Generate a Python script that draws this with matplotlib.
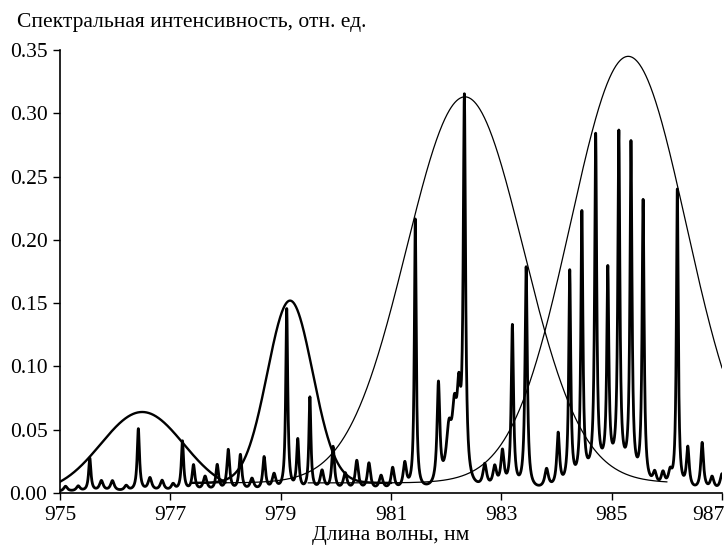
import numpy as np
import matplotlib
matplotlib.use("Agg")
import matplotlib.pyplot as plt
import matplotlib.transforms as mtransforms

plt.rcParams['font.family'] = ['Liberation Serif', 'DejaVu Serif']

# --- data ---
x_min, x_max = 975.0, 987.0
x_ticks = [975, 977, 979, 981, 983, 985, 987]
y_ticks = [0.00, 0.05, 0.10, 0.15, 0.20, 0.25, 0.30, 0.35]

# spectral lines: centre (nm), height, half-width (nm)
line_centres = [975.10, 975.33, 975.54, 975.75, 975.95, 976.20, 976.42, 976.63,
                976.85, 977.05, 977.22, 977.42, 977.63, 977.85, 978.05, 978.27,
                978.48, 978.70, 978.88, 979.11, 979.31, 979.53, 979.75, 979.95,
                980.17, 980.38, 980.60, 980.82, 981.03, 981.25, 981.44, 981.86,
                982.05, 982.15, 982.23, 982.33, 982.70, 982.88, 983.02, 983.20,
                983.45, 983.82, 984.03, 984.24, 984.46, 984.71, 984.93, 985.13,
                985.35, 985.57, 985.78, 985.93, 986.06, 986.19, 986.38, 986.64,
                986.82, 987.00]
line_heights = [0.004, 0.004, 0.026, 0.008, 0.008, 0.004, 0.049, 0.010,
                0.008, 0.005, 0.039, 0.020, 0.011, 0.020, 0.032, 0.028,
                0.009, 0.026, 0.012, 0.143, 0.039, 0.073, 0.015, 0.034,
                0.013, 0.023, 0.021, 0.011, 0.017, 0.020, 0.213, 0.080,
                0.040, 0.048, 0.058, 0.300, 0.018, 0.016, 0.028, 0.128,
                0.175, 0.015, 0.042, 0.168, 0.210, 0.265, 0.155, 0.265,
                0.262, 0.222, 0.010, 0.011, 0.011, 0.236, 0.032, 0.037,
                0.010, 0.013]
line_widths = [0.04, 0.04, 0.025, 0.04, 0.04, 0.04, 0.025, 0.04,
               0.04, 0.04, 0.025, 0.03, 0.04, 0.03, 0.03, 0.03,
               0.04, 0.03, 0.04, 0.022, 0.025, 0.022, 0.04, 0.03,
               0.04, 0.035, 0.035, 0.04, 0.035, 0.035, 0.02, 0.03,
               0.06, 0.05, 0.04, 0.025, 0.04, 0.04, 0.035, 0.025,
               0.025, 0.04, 0.03, 0.022, 0.022, 0.022, 0.022, 0.022,
               0.022, 0.022, 0.04, 0.04, 0.04, 0.02, 0.03, 0.03,
               0.04, 0.04]
floor_level = 0.001
# broad pedestal under the dense group of lines near 985 nm
pedestal_centre, pedestal_height, pedestal_sigma = 984.95, 0.016, 0.38

# Gaussian envelopes: centre, amplitude, sigma, offset, drawn range
env_centres = [976.49, 979.17, 982.34, 985.30]
env_amps = [0.064, 0.144, 0.305, 0.337]
env_sigmas = [0.75, 0.41, 1.06, 1.05]
env_offsets = [0.0, 0.008, 0.008, 0.008]
env_starts = [975.0, 977.4, 977.4, 979.5]
env_ends = [978.0, 981.0, 986.0, 987.0]
env_lw = [1.7, 1.7, 0.9, 0.9]

fig = plt.figure(figsize=(7.27, 5.48), dpi=100)
ax = fig.add_axes([60 / 727, 1 - 493 / 548, 662 / 727, 443 / 548])

# spectrum
xs = np.linspace(x_min, x_max, 6001)
spec = np.full_like(xs, floor_level)
spec += pedestal_height * np.exp(-(xs - pedestal_centre) ** 2 / (2 * pedestal_sigma ** 2))
for c, h, w in zip(line_centres, line_heights, line_widths):
    spec += h * w ** 2 / ((xs - c) ** 2 + w ** 2)
ax.plot(xs, spec, color='black', lw=2.0, solid_joinstyle='round')

# envelopes
for c, a, s, o, x0, x1, lw in zip(env_centres, env_amps, env_sigmas,
                                   env_offsets, env_starts, env_ends, env_lw):
    xe = np.linspace(x0, x1, 800)
    ax.plot(xe, o + a * np.exp(-(xe - c) ** 2 / (2 * s ** 2)),
            color='black', lw=lw)

ax.set_xlim(x_min, x_max)
ax.set_ylim(0, 0.35)
ax.set_xticks(x_ticks)
ax.set_xticklabels([str(t) for t in x_ticks])
ax.set_yticks(y_ticks)
ax.set_yticklabels([f"{t:.2f}" for t in y_ticks])
for s in ['top', 'right']:
    ax.spines[s].set_visible(False)
for s in ['left', 'bottom']:
    ax.spines[s].set_linewidth(1.2)
ax.tick_params(direction='out', length=5, width=1.0, labelsize=15.5, pad=4)

# keep the last x tick label inside the canvas
last = ax.get_xticklabels()[-1]
last.set_horizontalalignment('right')
last.set_transform(last.get_transform() +
                   mtransforms.ScaledTranslation(3 / 100, 0, fig.dpi_scale_trans))

ax.set_xlabel('Длина волны, нм', fontsize=15.5, labelpad=1)
fig.text(17 / 727, 1 - 27 / 548, 'Спектральная интенсивность, отн. ед.',
         fontsize=15.5, ha='left', va='baseline')

fig.savefig('out.png', dpi=100)
